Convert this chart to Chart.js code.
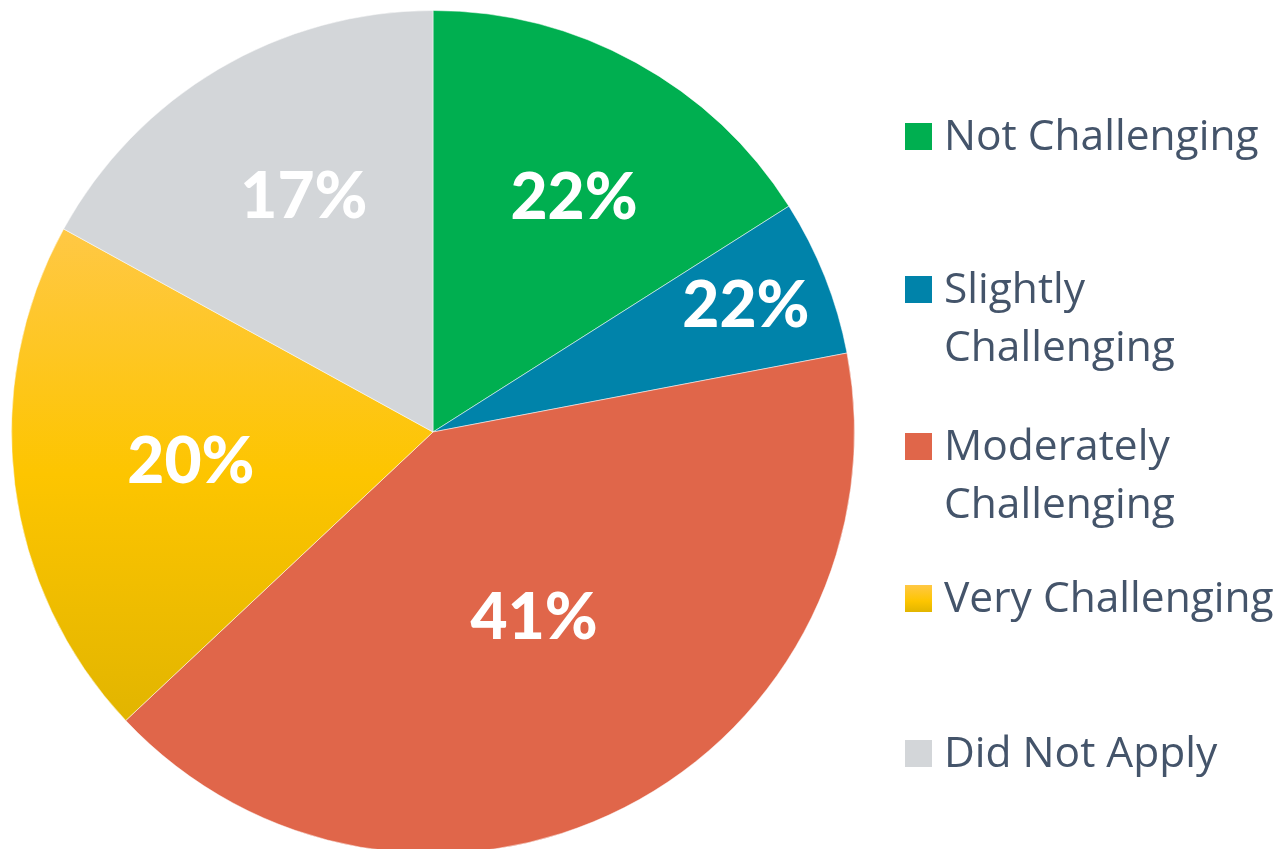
<!DOCTYPE html>
<html>
<head>
<meta charset="utf-8">
<script src="https://cdn.jsdelivr.net/npm/chart.js@4.4.0/dist/chart.umd.min.js"></script>
<style>
  html, body { margin: 0; padding: 0; background: #fff; overflow: hidden; }
  #wrap { position: absolute; left: 0; top: 0; width: 1281px; height: 860px; }
</style>
</head>
<body>
<div id="wrap"><canvas id="pie"></canvas></div>
<script>
// data (slice sizes) and the printed labels
var categories = ['Not Challenging', 'Slightly Challenging', 'Moderately Challenging', 'Very Challenging', 'Did Not Apply'];
var shares = [16, 6, 41, 20, 17];
var shownLabels = ['22%', '22%', '41%', '20%', '17%'];

var sliceColors = ['#00AF50', '#0083AA', '#E0664A', '#FDC500', '#D3D6D9'];
var textColor = '#44546A';

// label distance from centre (share of radius) and small angle nudge in degrees
var labelRadius = [0.648, 0.80, 0.503, 0.579, 0.636];
var labelNudge = [2.3, -0.3, -1.5, 0, 1.8];

// legend rows: wrapped lines and baseline of first line
var legendLines = [['Not Challenging'], ['Slightly', 'Challenging'], ['Moderately', 'Challenging'], ['Very Challenging'], ['Did Not Apply']];
var legendTop = [150, 303, 460, 612, 767];

function sliceFill(context) {
    var i = context.dataIndex;
    var chart = context.chart;
    if (i !== 3 || !chart.chartArea) return sliceColors[i];
    var area = chart.chartArea;
    var g = chart.ctx.createLinearGradient(0, area.top, 0, area.bottom);
    g.addColorStop(0.26, '#FFC845');
    g.addColorStop(0.55, '#FDC500');
    g.addColorStop(0.84, '#E2B500');
    return g;
}

var overlay = {
    id: 'overlay',
    afterDraw: function (chart) {
        var ctx = chart.ctx;
        var arcs = chart.getDatasetMeta(0).data;
        ctx.save();
        // percent labels
        ctx.fillStyle = '#fff';
        ctx.font = '900 64px Lato';
        ctx.textAlign = 'center';
        ctx.textBaseline = 'middle';
        arcs.forEach(function (arc, i) {
            var p = arc.getProps(['x', 'y', 'startAngle', 'endAngle', 'outerRadius']);
            var mid = (p.startAngle + p.endAngle) / 2 + labelNudge[i] * Math.PI / 180;
            var r = p.outerRadius * labelRadius[i];
            ctx.fillText(shownLabels[i], p.x + Math.cos(mid) * r, p.y + Math.sin(mid) * r);
        });
        // legend
        ctx.textAlign = 'left';
        ctx.textBaseline = 'alphabetic';
        ctx.font = '42.5px "Open Sans"';
        legendLines.forEach(function (lines, i) {
            var y = legendTop[i];
            var g;
            if (i === 3) {
                g = ctx.createLinearGradient(0, y - 27, 0, y);
                g.addColorStop(0, '#FFC845');
                g.addColorStop(0.6, '#FDC500');
                g.addColorStop(1, '#E2B500');
                ctx.fillStyle = g;
            } else {
                ctx.fillStyle = sliceColors[i];
            }
            ctx.fillRect(905, y - 27, 27, 27);
            ctx.fillStyle = textColor;
            lines.forEach(function (line, j) {
                ctx.fillText(line, 944, y + j * 58);
            });
        });
        ctx.restore();
    }
};

function drawChart() {
    var ctx = document.getElementById('pie').getContext('2d');
    new Chart(ctx, {
        type: 'pie',
        data: {
            labels: categories,
            datasets: [{
                data: shares,
                backgroundColor: sliceFill,
                borderColor: 'rgba(255,255,255,0.5)',
                borderWidth: 1
            }]
        },
        options: {
            responsive: true,
            maintainAspectRatio: false,
            animation: false,
            layout: { padding: { top: 10, left: 11, right: 426, bottom: 6 } },
            plugins: {
                legend: { display: false },
                tooltip: { enabled: false }
            }
        },
        plugins: [overlay]
    });
}

Promise.all([
    document.fonts.load('900 64px Lato'),
    document.fonts.load('42.5px "Open Sans"')
]).then(drawChart, drawChart);
</script>
</body>
</html>
